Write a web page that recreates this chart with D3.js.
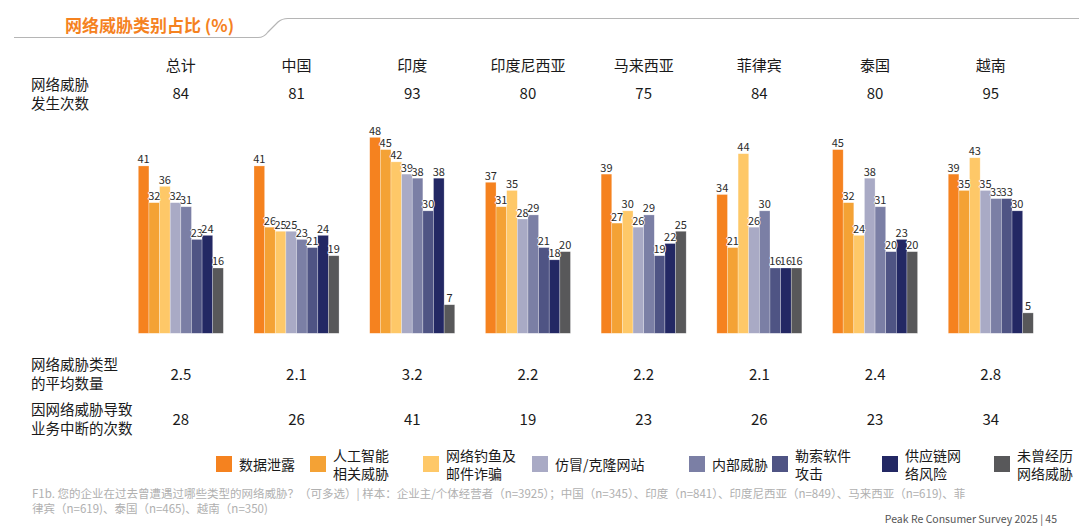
<!DOCTYPE html>
<html>
<head>
<meta charset="utf-8">
<script src="https://cdn.jsdelivr.net/npm/d3@7"></script>
<style>
  body { margin: 0; background: #fff; }
  text { font-family: "Noto Sans CJK SC", "Noto Sans", sans-serif; }
</style>
</head>
<body>
<div id="chart"></div>
<script>
// data
var countries = ["总计", "中国", "印度", "印度尼西亚", "马来西亚", "菲律宾", "泰国", "越南"];
var threatTypes = ["数据泄露", "人工智能相关威胁", "网络钓鱼及邮件诈骗", "仿冒/克隆网站", "内部威胁", "勒索软件攻击", "供应链网络风险", "未曾经历网络威胁"];
var legendLines = [["数据泄露"], ["人工智能", "相关威胁"], ["网络钓鱼及", "邮件诈骗"], ["仿冒/克隆网站"], ["内部威胁"], ["勒索软件", "攻击"], ["供应链网", "络风险"], ["未曾经历", "网络威胁"]];
var shares = [
  [41, 32, 36, 32, 31, 23, 24, 16],
  [41, 26, 25, 25, 23, 21, 24, 19],
  [48, 45, 42, 39, 38, 30, 38, 7],
  [37, 31, 35, 28, 29, 21, 18, 20],
  [39, 27, 30, 26, 29, 19, 22, 25],
  [34, 21, 44, 26, 30, 16, 16, 16],
  [45, 32, 24, 38, 31, 20, 23, 20],
  [39, 35, 43, 35, 33, 33, 30, 5]
];
var threatCounts = [84, 81, 93, 80, 75, 84, 80, 95];
var avgTypes = ["2.5", "2.1", "3.2", "2.2", "2.2", "2.1", "2.4", "2.8"];
var disruptions = [28, 26, 41, 19, 23, 26, 23, 34];
var colors = ["#F5821F", "#F4A235", "#FEC868", "#A9AAC5", "#7B7FA5", "#4F5484", "#232864", "#58585A"];

var svgWidth = 1079, svgHeight = 532;

var svg = d3.select("#chart").append("svg")
  .attr("width", svgWidth)
  .attr("height", svgHeight);

// title + header rule
svg.append("path")
  .attr("d", "M14,37.5 H258 Q264,37.5 268,32 L278,22 Q282,18.5 288,18.5 H1079")
  .attr("fill", "none")
  .attr("stroke", "#b5b5b5")
  .attr("stroke-width", 1.2);

svg.append("text")
  .attr("x", 65).attr("y", 32)
  .attr("fill", "#F5821F")
  .attr("font-size", 17)
  .attr("font-weight", "bold")
  .text("网络威胁类别占比 (%)");

// scales
var x0 = d3.scaleBand()
  .domain(countries)
  .range([138.3, 1033.3])
  .paddingInner(0.265);

var x1 = d3.scaleBand()
  .domain(threatTypes)
  .range([0, x0.bandwidth()]);

var y = d3.scaleLinear()
  .domain([0, 50])
  .range([333.3, 129.2]);

// header rows
var numFont = "Lato, 'Noto Sans', sans-serif";

svg.selectAll(".country")
  .data(countries)
  .enter().append("text")
  .attr("x", d => x0(d) + x0.bandwidth() / 2)
  .attr("y", 71)
  .attr("text-anchor", "middle")
  .attr("font-size", 15)
  .attr("fill", "#1a1a1a")
  .text(d => d);

// one <text> per line for the row headers
function rowLabel(lines, ys) {
  lines.forEach(function(l, i) {
    svg.append("text")
      .attr("x", 31).attr("y", ys[i])
      .attr("font-size", 14.5)
      .attr("fill", "#1a1a1a")
      .text(l);
  });
}

function rowValues(vals, yy) {
  svg.selectAll(null)
    .data(vals)
    .enter().append("text")
    .attr("x", (d, i) => x0(countries[i]) + x0.bandwidth() / 2)
    .attr("y", yy)
    .attr("text-anchor", "middle")
    .attr("font-size", 15)
    .attr("font-family", numFont)
    .attr("fill", "#1a1a1a")
    .text(d => d);
}

rowLabel(["网络威胁", "发生次数"], [89.5, 108.5]);
rowValues(threatCounts, 99);

rowLabel(["网络威胁类型", "的平均数量"], [370, 389]);
rowValues(avgTypes, 379.5);

rowLabel(["因网络威胁导致", "业务中断的次数"], [414.5, 433.5]);
rowValues(disruptions, 424.5);

// bars
var groups = svg.selectAll(".group")
  .data(shares)
  .enter().append("g")
  .attr("transform", (d, i) => `translate(${x0(countries[i])},0)`);

groups.selectAll("rect")
  .data(d => d)
  .enter().append("rect")
  .attr("x", (d, i) => x1(threatTypes[i]))
  .attr("y", d => y(d))
  .attr("width", x1.bandwidth())
  .attr("height", d => y(0) - y(d))
  .attr("fill", (d, i) => colors[i])
  .attr("stroke", "#ffffff")
  .attr("stroke-opacity", 0.45)
  .attr("stroke-width", 0.6);

groups.selectAll(".val")
  .data(d => d)
  .enter().append("text")
  .attr("x", (d, i) => x1(threatTypes[i]) + x1.bandwidth() / 2)
  .attr("y", d => y(d) - 2.5)
  .attr("text-anchor", "middle")
  .attr("font-size", 11)
  .attr("font-family", numFont)
  .attr("fill", "#2a2a2a")
  .attr("stroke", "#ffffff")
  .attr("stroke-width", 1.5)
  .attr("paint-order", "stroke")
  .text(d => d);

// legend
var legendX = [216, 310, 423, 532, 689, 772, 882, 994];
var legendTop = 456;

svg.selectAll(".swatch")
  .data(threatTypes)
  .enter().append("rect")
  .attr("x", (d, i) => legendX[i])
  .attr("y", legendTop)
  .attr("width", 16).attr("height", 16)
  .attr("fill", (d, i) => colors[i]);

threatTypes.forEach(function(d, i) {
  var lines = legendLines[i];
  var t = svg.append("text")
    .attr("font-size", 14)
    .attr("fill", "#1a1a1a");
  lines.forEach(function(l, j) {
    var yy = lines.length === 1 ? legendTop + 13.5 : legendTop + 4.5 + j * 18;
    t.append("tspan").attr("x", legendX[i] + 23).attr("y", yy).text(l);
  });
});

// footnote
var note = svg.append("text")
  .attr("font-size", 11.5)
  .attr("fill", "#b0b0b0");
note.append("tspan").attr("x", 32).attr("y", 498)
  .text("F1b. 您的企业在过去曾遭遇过哪些类型的网络威胁？（可多选）| 样本：企业主/个体经营者（n=3925）；中国（n=345）、印度（n=841）、印度尼西亚（n=849）、马来西亚（n=619)、菲");
note.append("tspan").attr("x", 32).attr("y", 513)
  .text("律宾（n=619)、泰国（n=465)、越南（n=350)");

svg.append("text")
  .attr("x", 1057).attr("y", 523)
  .attr("text-anchor", "end")
  .attr("font-size", 10.5)
  .attr("fill", "#555")
  .text("Peak Re Consumer Survey 2025 | 45");
</script>
</body>
</html>
